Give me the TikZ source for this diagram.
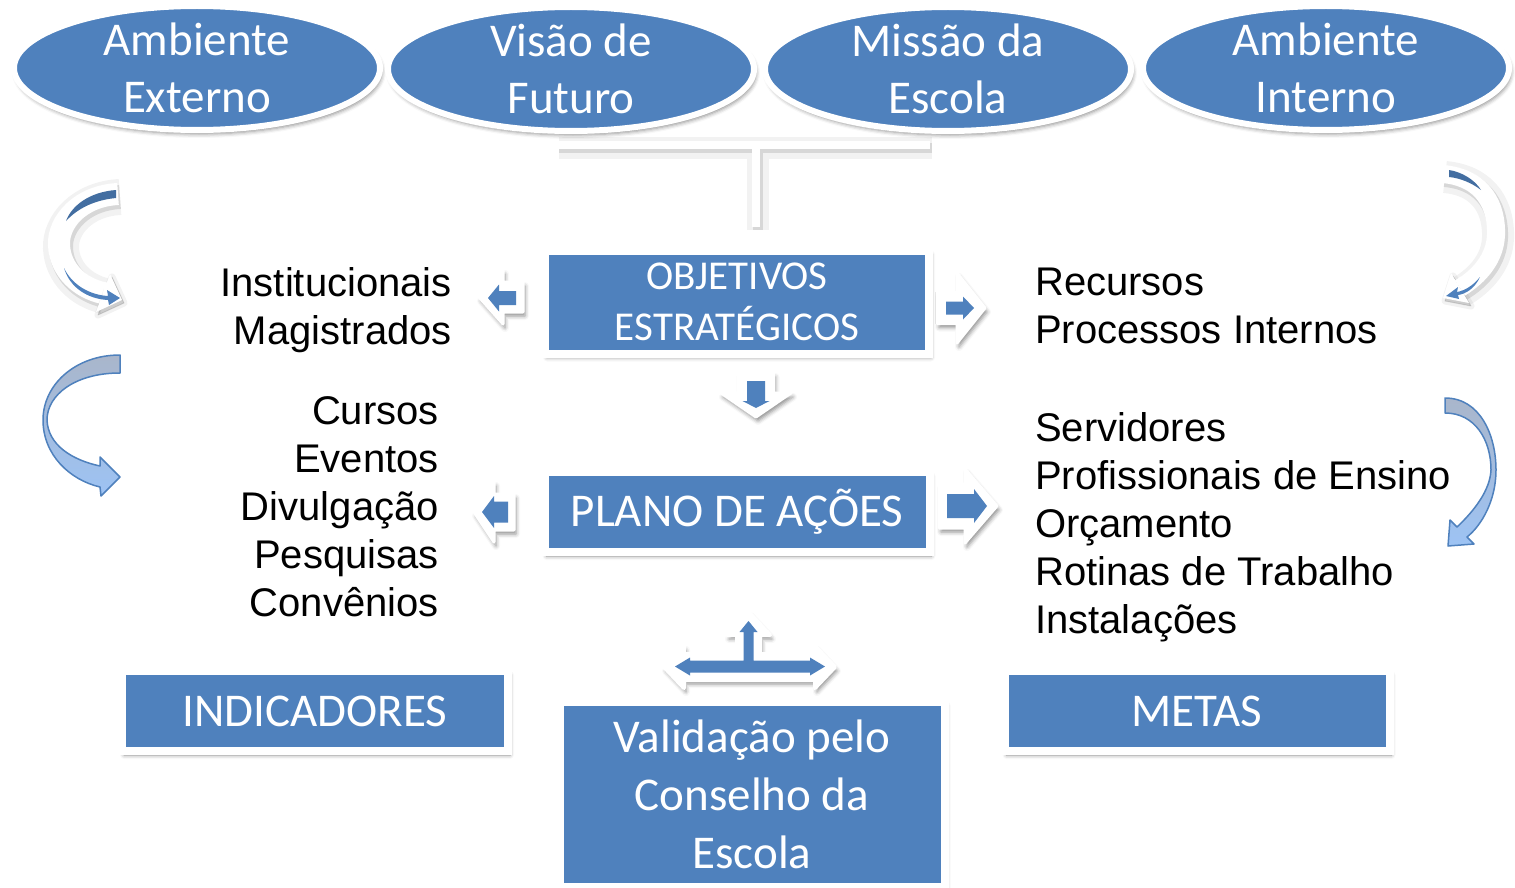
\documentclass[tikz,border=0pt]{standalone}
\usepackage{fontspec}
\setmainfont{Carlito}
\newfontfamily\arialfont{Liberation Sans}
\usetikzlibrary{shapes.geometric,shadows.blur}

\definecolor{boxblue}{HTML}{4F81BD}
\definecolor{ribbontop}{HTML}{A9B6CB}
\definecolor{ribbonbot}{HTML}{9DC3F4}

\tikzset{
  softshadow/.style={blur shadow={shadow xshift=2pt,shadow yshift=-4pt,shadow blur radius=4pt,shadow opacity=45}},
  softline/.style={
    preaction={draw=black,opacity=0.05,line width=\pgflinewidth+7pt,transform canvas={shift={(2pt,-3pt)}}},
    preaction={draw=black,opacity=0.11,line width=\pgflinewidth+1pt,transform canvas={shift={(2pt,-3pt)}}}},
  softfill/.style={
    preaction={fill=black,draw=black,opacity=0.05,line width=7pt,line join=round,transform canvas={shift={(2pt,-3pt)}}},
    preaction={fill=black,draw=black,opacity=0.11,line width=1pt,line join=round,transform canvas={shift={(2pt,-3pt)}}}},
  oval/.style={ellipse,fill=boxblue,draw=white,line width=6pt,minimum width=366pt,minimum height=124pt,
    inner xsep=0pt,inner ysep=-15pt,text=white,align=center,font=\fontsize{47}{57}\selectfont,softshadow},
  bluebox/.style={rectangle,fill=boxblue,draw=white,line width=8pt,text=white,align=center,inner sep=0pt,softshadow},
  listtext/.style={inner sep=0pt,font=\arialfont\fontsize{40}{48}\selectfont},
  whitebar/.style={draw=white,line width=8pt,softline},
  whitecurve/.style={draw=white,softline},
  arrowframe/.style={fill=white,draw=white,line width=3pt,line join=round,softshadow},
  ribbon/.style={top color=ribbontop,bottom color=ribbonbot,draw=boxblue,line width=1.5pt,line join=round}
}

% style, tip, angle, head length, head half width, shaft half width, shaft length
\newcommand{\blockarrow}[7]{%
  \path[#1,shift={#2},rotate=#3] (0,0) -- (-#4,#5) -- (-#4,#6) -- (-#4-#7,#6) -- (-#4-#7,-#6) -- (-#4,-#6) -- (-#4,-#5) -- cycle;}

\begin{document}
\begin{tikzpicture}[x=1pt,y=-1pt]
\useasboundingbox (0,0) rectangle (1515,888);

% top row
\node[oval] (ext) at (197,68) {Ambiente\\Externo};
\node[oval] (vis) at (571,69) {Visão de\\Futuro};
\node[oval] (mis) at (948,69) {Missão da\\Escola};
\node[oval] (int) at (1326,68) {Ambiente\\Interno};

% bracket under the ovals
\coordinate (brL) at (557,145);
\coordinate (brR) at (930,145);
\coordinate (brM) at (756,145);
\coordinate (brB) at (756,227);
\draw[whitebar] (brL) -- (brR) (brM) -- (brB);

% block arrows
\blockarrow{arrowframe}{(479,297)}{180}{24}{27}{15}{20}
\blockarrow{fill=boxblue}{(488,298)}{180}{11}{13.5}{7}{17}
\blockarrow{arrowframe}{(985,308)}{0}{28}{35}{15.5}{20}
\blockarrow{fill=boxblue}{(974,308)}{0}{11}{11.5}{6.5}{17}
\blockarrow{arrowframe}{(756,417)}{-90}{24}{35}{17.5}{20}
\blockarrow{fill=boxblue}{(756,408)}{-90}{7}{13.5}{9}{20}
\blockarrow{arrowframe}{(474,512)}{180}{20}{30}{18}{20}
\blockarrow{fill=boxblue}{(482,512)}{180}{12}{16}{10.5}{14}
\blockarrow{arrowframe}{(997,506)}{0}{32}{37}{22}{26}
\blockarrow{fill=boxblue}{(987,506)}{0}{13}{17}{12}{27}

% three-way arrow
\filldraw[white,line width=4pt,line join=round,softshadow] (664,667) -- (684,646) -- (684,654) -- (737,654) -- (737,635)
  -- (727,635) -- (748.5,612) -- (770,635) -- (760,635) -- (760,654) -- (815,654) -- (815,646) -- (835,667)
  -- (815,688) -- (815,680) -- (684,680) -- (684,688) -- cycle;
\fill[boxblue] (675,666.5) -- (690,657.5) -- (690,660.5) -- (743.5,660.5) -- (743.5,632) -- (739.5,632) -- (748.5,621)
  -- (757.5,632) -- (753.5,632) -- (753.5,660.5) -- (810,660.5) -- (810,657.5) -- (825,666.5) -- (810,675.5)
  -- (810,672.5) -- (690,672.5) -- (690,675.5) -- cycle;

% boxes
\node[bluebox,minimum width=384pt,minimum height=103pt,font=\fontsize{41}{51}\selectfont] (obj) at (737,302) {OBJETIVOS\\ESTRATÉGICOS};
\node[bluebox,minimum width=385pt,minimum height=80pt,font=\fontsize{47}{57}\selectfont] (plano) at (737,512) {PLANO DE AÇÕES};
\node[bluebox,minimum width=386pt,minimum height=80pt,font=\fontsize{47}{57}\selectfont] (ind) at (315,711) {INDICADORES};
\node[bluebox,minimum width=385pt,minimum height=80pt,font=\fontsize{47}{57}\selectfont] (metas) at (1197,711) {METAS};
\node[bluebox,minimum width=385pt,minimum height=185pt,font=\fontsize{47}{58}\selectfont] (valid) at (752,794) {Validação pelo\\Conselho da\\Escola};

% lists
\node[listtext,anchor=north east,align=right] (inst) at (452,267) {Institucionais\\Magistrados};
\node[listtext,anchor=north east,align=right] (cursos) at (439,396) {Cursos\\Eventos\\Divulgação\\Pesquisas\\Convênios};
\node[listtext,anchor=north west,align=left] (rec) at (1035,268) {Recursos\\Processos Internos};
\node[listtext,anchor=north west,align=left] (serv) at (1035,412) {Servidores\\Profissionais de Ensino\\Orçamento\\Rotinas de Trabalho\\Instalações};

% curved arrows, white
\draw[whitecurve,line width=22pt] (118,194) .. controls (80,196) and (58,222) .. (59,245) .. controls (60,270) and (80,288) .. (103,293);
\fill[white,softfill] (96,312) -- (122,300) -- (110,274) -- cycle;
\draw[white,line width=22pt] (110,294) -- (103,293);
\fill[boxblue!85!black] (116,190) .. controls (90,192) and (72,205) .. (66,221) .. controls (78,208) and (95,200) .. (116,198) -- cycle;
\fill[boxblue] (64,268) .. controls (72,285) and (90,295) .. (108,296) -- (107,290) -- (120,298) -- (109,305) -- (108,300) .. controls (88,299) and (70,288) .. (64,268) -- cycle;

\draw[whitecurve,line width=18pt] (1443,174) .. controls (1485,178) and (1497,208) .. (1496,235) .. controls (1495,258) and (1480,276) .. (1460,288);
\fill[white,softfill] (1469,303) -- (1443,298) -- (1451,273) -- cycle;
\draw[white,line width=18pt] (1466,284) -- (1460,288);
\fill[boxblue!85!black] (1449,170) .. controls (1462,172) and (1475,180) .. (1481,190) .. controls (1472,183) and (1460,178) .. (1449,177) -- cycle;
\fill[boxblue] (1480,277) .. controls (1472,287) and (1463,291) .. (1457,292) -- (1458,287) -- (1446,296) -- (1459,299) -- (1458,295) .. controls (1466,294) and (1475,288) .. (1480,277) -- cycle;

% curved arrows, shaded
\filldraw[ribbon] (120,355) .. controls (75,355) and (43,385) .. (43,420) .. controls (43,455) and (70,480) .. (100,487)
  -- (101,496) -- (120,477) -- (100,457) -- (100,466) .. controls (72,460) and (48,445) .. (47,420)
  .. controls (47,395) and (75,373) .. (120,373) -- cycle;
\filldraw[ribbon] (1445,398) .. controls (1480,398) and (1496,435) .. (1496,470) .. controls (1496,500) and (1482,525) .. (1467,537)
  -- (1474,544) -- (1448,546) -- (1450,520) -- (1457,527) .. controls (1475,510) and (1490,490) .. (1491,470)
  .. controls (1491,440) and (1475,413) .. (1445,413) -- cycle;
\end{tikzpicture}
\end{document}
